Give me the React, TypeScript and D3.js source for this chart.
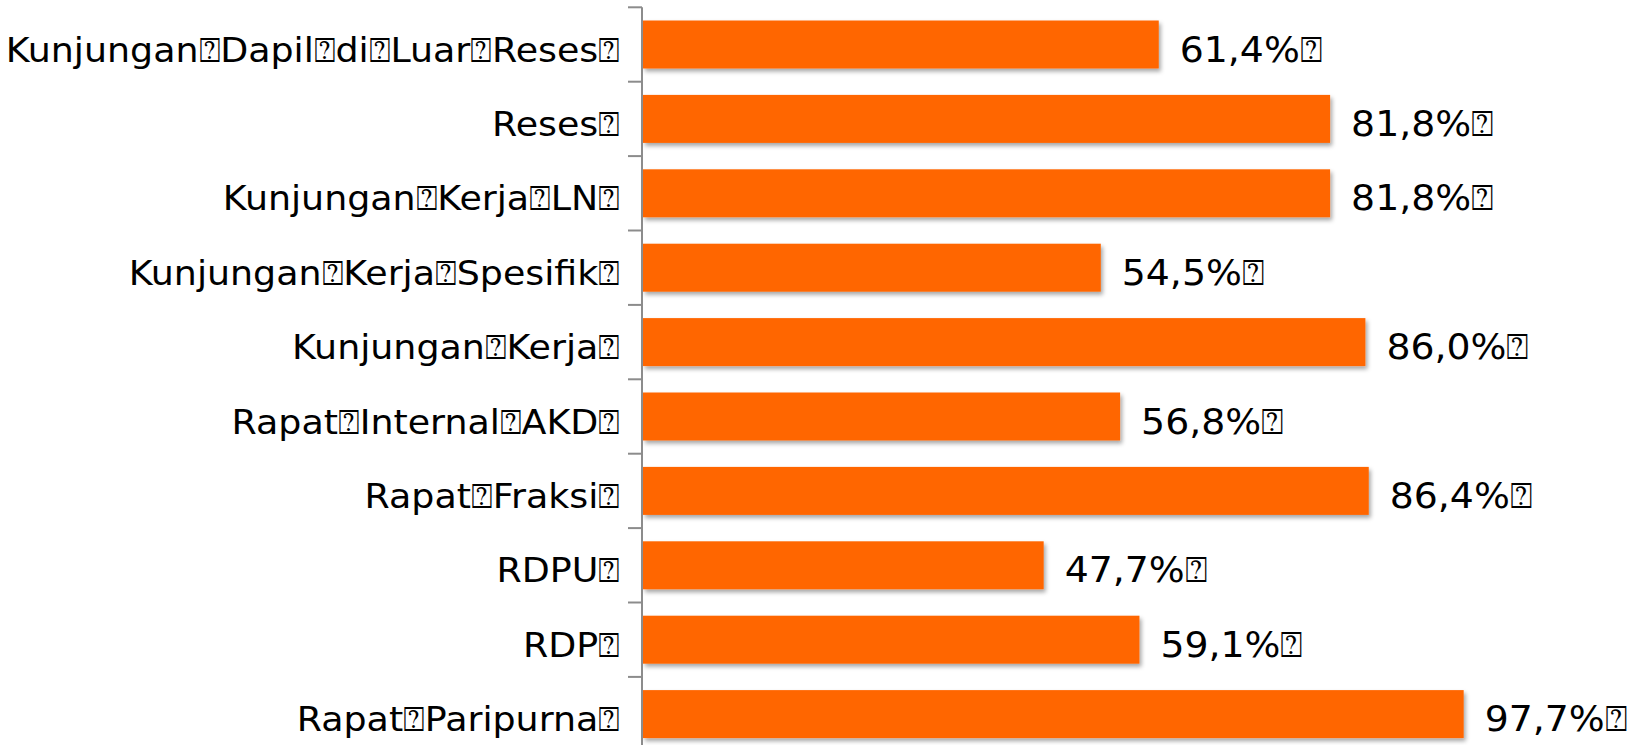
import React, { useEffect } from "react";
import * as d3 from "d3";

const categories = [
  "Kunjungan⍰Dapil⍰di⍰Luar⍰Reses⍰",
  "Reses⍰",
  "Kunjungan⍰Kerja⍰LN⍰",
  "Kunjungan⍰Kerja⍰Spesifik⍰",
  "Kunjungan⍰Kerja⍰",
  "Rapat⍰Internal⍰AKD⍰",
  "Rapat⍰Fraksi⍰",
  "RDPU⍰",
  "RDP⍰",
  "Rapat⍰Paripurna⍰",
];
const values = [61.4, 81.8, 81.8, 54.5, 86.0, 56.8, 86.4, 47.7, 59.1, 97.7];
const valueLabels = ["61,4%⍰", "81,8%⍰", "81,8%⍰", "54,5%⍰", "86,0%⍰", "56,8%⍰", "86,4%⍰", "47,7%⍰", "59,1%⍰", "97,7%⍰"];

const W = 1643;
const H = 745;
const axisX = 643;

export default function App() {
  useEffect(() => {
    document.body.style.margin = "0";
  }, []);

  const x = d3.scaleLinear().domain([0, 100]).range([axisX, axisX + 840]);
  const y = d3
    .scaleBand<string>()
    .domain(categories)
    .range([7.3, 7.3 + 744])
    .paddingInner(0.355)
    .paddingOuter(0.1775);
  const step = y.step();
  const bw = y.bandwidth();
  const ticks = d3.range(categories.length + 1).map((i) => 7.3 + i * step);

  return (
    <svg width={W} height={H} style={{ display: "block", background: "#fff" }}>
      <defs>
        <filter id="shadow" x="-5%" y="-20%" width="115%" height="160%">
          <feDropShadow dx="2" dy="3" stdDeviation="2" floodColor="#000" floodOpacity="0.35" />
        </filter>
      </defs>
      {categories.map((c, i) => (
        <rect
          key={c}
          x={x(0)}
          y={y(c)!}
          width={x(values[i]) - x(0)}
          height={bw}
          fill="#FF6600"
          filter="url(#shadow)"
        />
      ))}
      <line x1={axisX - 1} x2={axisX - 1} y1={ticks[0]} y2={H + 10} stroke="#8c8c8c" strokeWidth={2} />
      {ticks.map((t, i) => (
        <line key={i} x1={axisX - 15} x2={axisX - 1} y1={t} y2={t} stroke="#8c8c8c" strokeWidth={2} />
      ))}
      {categories.map((c, i) => (
        <text
          key={"l" + c}
          transform={`translate(620,${y(c)! + bw / 2 + 17}) scale(1.07,1)`}
          textAnchor="end"
          fontFamily="'DejaVu Sans', sans-serif"
          fontSize={34}
          fill="#000"
        >
          {c}
        </text>
      ))}
      {categories.map((c, i) => (
        <text
          key={"v" + c}
          transform={`translate(${x(values[i]) + 21},${y(c)! + bw / 2 + 17}) scale(1.08,1)`}
          fontFamily="'DejaVu Sans', sans-serif"
          fontSize={35}
          fill="#000"
        >
          {valueLabels[i]}
        </text>
      ))}
    </svg>
  );
}
